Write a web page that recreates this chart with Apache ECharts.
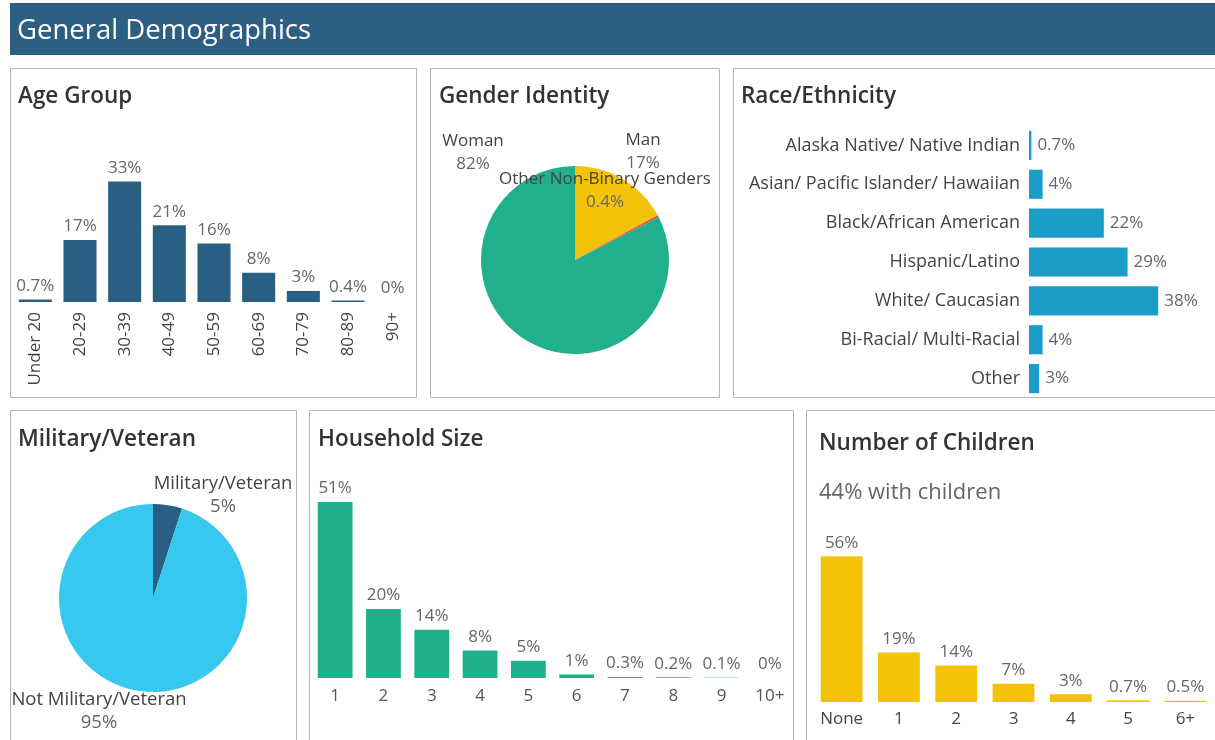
<!DOCTYPE html>
<html>
<head>
<meta charset="utf-8">
<title>General Demographics</title>
<script src="https://cdn.jsdelivr.net/npm/echarts@6/dist/echarts.min.js"></script>
<style>
  html, body { margin: 0; padding: 0; background: #fff; }
  #chart { width: 1215px; height: 740px; }
</style>
</head>
<body>
<div id="chart"></div>
<script>
// data
const ageGroups = ['Under 20', '20-29', '30-39', '40-49', '50-59', '60-69', '70-79', '80-89', '90+']
const ageValues = [0.7, 17, 33, 21, 16, 8, 3, 0.4, 0]

const genderNames = ['Man', 'Other Non-Binary Genders', 'Woman']
const genderValues = [17, 0.4, 82]

const raceGroups = ['Alaska Native/ Native Indian', 'Asian/ Pacific Islander/ Hawaiian', 'Black/African American',
  'Hispanic/Latino', 'White/ Caucasian', 'Bi-Racial/ Multi-Racial', 'Other']
const raceValues = [0.7, 4, 22, 29, 38, 4, 3]

const militaryNames = ['Military/Veteran', 'Not Military/Veteran']
const militaryValues = [5, 95]

const householdSizes = ['1', '2', '3', '4', '5', '6', '7', '8', '9', '10+']
const householdValues = [51, 20, 14, 8, 5, 1, 0.3, 0.2, 0.1, 0]

const childrenGroups = ['None', '1', '2', '3', '4', '5', '6+']
const childrenValues = [56, 19, 14, 7, 3, 0.7, 0.5]
const withChildren = 44

const FONT = '"Open Sans", "Noto Sans", sans-serif'
const pct = (p) => p.value + '%'

const chart = echarts.init(document.getElementById('chart'))

const panel = (x, y, w, h) => ({
  type: 'rect',
  shape: { x: x + 0.5, y: y + 0.5, width: w, height: h },
  style: { fill: '#fff', stroke: '#b5b5b5', lineWidth: 1 },
  z: -10,
})
const heading = (text, x, y) => ({
  type: 'text', x, y,
  style: { text, fill: '#333', font: '600 22.5px ' + FONT, textVerticalAlign: 'middle' },
})

const hideAxis = {
  axisLine: { show: false },
  axisTick: { show: false },
  splitLine: { show: false },
}
const valLabel = {
  show: true, position: 'top', distance: 5, formatter: pct,
  color: '#666', fontSize: 17, fontFamily: FONT,
}

// label anchors for the pies (tableau places them by hand)
const genderLabelPos = [[643, 152], [605, 191], [473, 153]]
const militaryLabelPos = [[223, 495], [99, 711]]

const pieLabel = (size) => ({
  show: true, overflow: 'none',
  formatter: (p) => '{n|' + p.name + '}\n{p|' + p.value + '%}',
  rich: {
    n: { color: '#444', fontSize: size, fontFamily: FONT, lineHeight: 23, align: 'center' },
    p: { color: '#666', fontSize: size, fontFamily: FONT, lineHeight: 23, align: 'center' },
  },
})

const option = {
  animation: false,
  textStyle: { fontFamily: FONT },
  graphic: [
    { type: 'rect', shape: { x: 10, y: 3, width: 1205, height: 52 }, style: { fill: '#2c5f82' } },
    { type: 'text', x: 17, y: 31, style: { text: 'General Demographics', fill: '#fff', font: '27.5px ' + FONT, textVerticalAlign: 'middle' } },
    panel(10, 68, 406, 329),
    panel(430, 68, 289, 329),
    panel(733, 68, 490, 329),
    panel(10, 410, 286, 335),
    panel(309, 410, 484, 335),
    panel(806, 410, 420, 335),
    heading('Age Group', 18, 97),
    heading('Gender Identity', 439, 97),
    heading('Race/Ethnicity', 741, 97),
    heading('Military/Veteran', 18, 440),
    heading('Household Size', 318, 440),
    heading('Number of Children', 819, 444),
    { type: 'text', x: 819, y: 493, style: { text: withChildren + '% with children', fill: '#666', font: '22px ' + FONT, textVerticalAlign: 'middle' } },
  ],
  grid: [
    { left: 13, top: 156, width: 402, height: 146 },
    { left: 1029, top: 126, width: 170, height: 272 },
    { left: 311, top: 471, width: 483, height: 207 },
    { left: 813, top: 551, width: 401, height: 151 },
  ],
  xAxis: [
    {
      gridIndex: 0, type: 'category', data: ageGroups, ...hideAxis,
      axisLabel: { rotate: 90, margin: 10, color: '#444', fontSize: 17, fontFamily: FONT },
    },
    { gridIndex: 1, type: 'value', min: 0, max: 50, ...hideAxis, axisLabel: { show: false } },
    {
      gridIndex: 2, type: 'category', data: householdSizes, ...hideAxis,
      axisLabel: { margin: 10, color: '#555', fontSize: 17, fontFamily: FONT },
    },
    {
      gridIndex: 3, type: 'category', data: childrenGroups, ...hideAxis,
      axisLabel: { margin: 9, color: '#444', fontSize: 17, fontFamily: FONT },
    },
  ],
  yAxis: [
    { gridIndex: 0, type: 'value', min: 0, max: 40, ...hideAxis, axisLabel: { show: false } },
    {
      gridIndex: 1, type: 'category', data: raceGroups, inverse: true, ...hideAxis,
      axisLabel: { margin: 9, color: '#444', fontSize: 18, fontFamily: FONT },
    },
    { gridIndex: 2, type: 'value', min: 0, max: 60, ...hideAxis, axisLabel: { show: false } },
    { gridIndex: 3, type: 'value', min: 0, max: 58, ...hideAxis, axisLabel: { show: false } },
  ],
  series: [
    {
      name: 'Age Group', type: 'bar', xAxisIndex: 0, yAxisIndex: 0,
      data: ageValues, barWidth: '74%',
      itemStyle: { color: '#2a5f84' }, label: valLabel,
    },
    {
      name: 'Race/Ethnicity', type: 'bar', xAxisIndex: 1, yAxisIndex: 1,
      data: raceValues, barWidth: '75%',
      itemStyle: { color: '#1a9dc6' },
      label: { ...valLabel, position: 'right', distance: 6 },
    },
    {
      name: 'Household Size', type: 'bar', xAxisIndex: 2, yAxisIndex: 2,
      data: householdValues, barWidth: '72%',
      itemStyle: { color: '#1fb08b' }, label: valLabel,
    },
    {
      name: 'Number of Children', type: 'bar', xAxisIndex: 3, yAxisIndex: 3,
      data: childrenValues, barWidth: '73%',
      itemStyle: { color: '#f5c20a' }, label: valLabel,
    },
    {
      name: 'Gender Identity', type: 'pie',
      center: [575, 260], radius: 94, startAngle: 90, clockwise: true,
      data: genderNames.map((n, i) => ({ name: n, value: genderValues[i] })),
      color: ['#f5c20a', '#d9534f', '#21b08e'],
      label: pieLabel(17), labelLine: { show: false },
      labelLayout: (p) => ({
        x: genderLabelPos[p.dataIndex][0], y: genderLabelPos[p.dataIndex][1],
        align: 'center', verticalAlign: 'middle',
      }),
    },
    {
      name: 'Military/Veteran', type: 'pie',
      center: [153, 598], radius: 94, startAngle: 90, clockwise: true,
      data: militaryNames.map((n, i) => ({ name: n, value: militaryValues[i] })),
      color: ['#2a5f84', '#36c8ee'],
      label: pieLabel(18.5), labelLine: { show: false },
      labelLayout: (p) => ({
        x: militaryLabelPos[p.dataIndex][0], y: militaryLabelPos[p.dataIndex][1],
        align: 'center', verticalAlign: 'middle',
      }),
    },
  ],
}

chart.setOption(option)
window.addEventListener('resize', () => chart.resize())
</script>
</body>
</html>
